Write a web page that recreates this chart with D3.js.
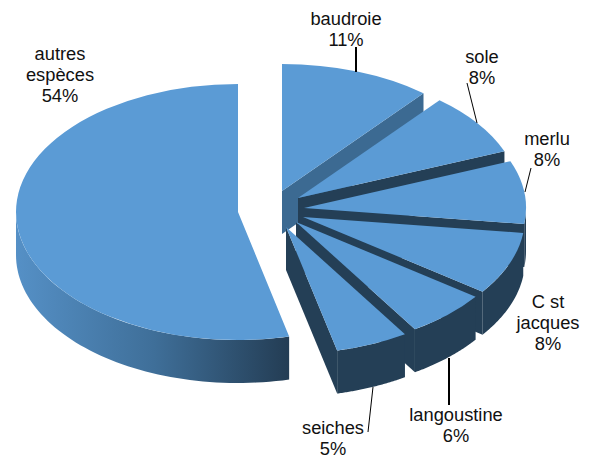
<!DOCTYPE html>
<html>
<head>
<meta charset="utf-8">
<script src="https://cdn.jsdelivr.net/npm/d3@7"></script>
<style>
  html, body { margin: 0; padding: 0; background: #fff; }
  svg { display: block; }
  text { font-family: "Liberation Sans", Arial, sans-serif; font-size: 18.3px; fill: #111; }
</style>
</head>
<body>
<script>
var categories = ["baudroie", "sole", "merlu", "C st jacques", "langoustine", "seiches", "autres espèces"];
var percents = [11, 8, 8, 8, 6, 5.3, 53.7];
var labelLines = [["baudroie", "11%"], ["sole", "8%"], ["merlu", "8%"], ["C st", "jacques", "8%"], ["langoustine", "6%"], ["seiches", "5%"], ["autres", "espèces", "54%"]];

// layout of the exploded slices
var apexX = [282, 298, 304, 303, 296, 286, 238];
var apexY = [191, 198, 208, 217, 222, 227, 212];
var radiusY = [127, 127, 127, 127, 127, 127, 128];
var labelX = [346, 482, 547, 548, 456, 333, 60];
var labelY = [25, 63, 145, 308, 421, 434, 60];
var leaders = [[356, 47, 356, 72, 2], [467, 83, 477, 123, 1], [531, 168, 525, 192, 1], [449, 358, 449, 405, 2], [373, 387, 368, 432, 1]];

var width = 596, height = 456;
var rx = 222, depth = 43, R = 100;
var topColor = "#5b9bd5", darkWall = "#243f56", midWall = "#3c6a92";

var svg = d3.select("body").append("svg")
    .attr("width", width)
    .attr("height", height);

var grad = svg.append("defs").append("linearGradient")
    .attr("id", "sideGrad")
    .attr("gradientUnits", "userSpaceOnUse")
    .attr("x1", 16).attr("x2", 291).attr("y1", 0).attr("y2", 0);
grad.append("stop").attr("offset", 0).attr("stop-color", "#5590c6");
grad.append("stop").attr("offset", 0.5).attr("stop-color", "#3f6f99");
grad.append("stop").attr("offset", 1).attr("stop-color", "#233c53");

var pie = d3.pie().sort(null).value(function (d) { return d; });
var slices = pie(percents);

var arc = d3.arc().innerRadius(0).outerRadius(R);
var line = d3.line();

function px(i, a) { return apexX[i] + rx * Math.sin(a); }
function py(i, a) { return apexY[i] - radiusY[i] * Math.cos(a); }

// outer rim, only the part between 90 and 270 degrees faces the viewer
function rimPoints(i, d) {
    var a0 = Math.max(d.startAngle, Math.PI / 2);
    var a1 = Math.min(d.endAngle, Math.PI * 1.5);
    if (a1 <= a0) return null;
    var angles = d3.range(0, 61).map(function (k) { return a0 + (a1 - a0) * k / 60; });
    var upper = angles.map(function (a) { return [px(i, a), py(i, a)]; });
    var lower = angles.slice().reverse().map(function (a) { return [px(i, a), py(i, a) + depth]; });
    return upper.concat(lower);
}

function wallPoints(i, a) {
    return [[apexX[i], apexY[i]], [px(i, a), py(i, a)], [px(i, a), py(i, a) + depth], [apexX[i], apexY[i] + depth]];
}

var sliceGroups = svg.selectAll("g.slice")
    .data(slices)
    .enter().append("g")
    .attr("class", "slice");

sliceGroups.each(function (d, i) {
    var g = d3.select(this);
    var isBig = i === slices.length - 1;
    if (!isBig) {
        g.append("path")
            .attr("d", line(wallPoints(i, d.endAngle)) + "Z")
            .attr("fill", i === 0 ? midWall : darkWall);
    }
    var rim = rimPoints(i, d);
    if (rim) {
        g.append("path")
            .attr("d", line(rim) + "Z")
            .attr("fill", isBig ? "url(#sideGrad)" : darkWall);
    }
    g.append("path")
        .attr("d", arc(d))
        .attr("transform", "translate(" + apexX[i] + "," + apexY[i] + ") scale(" + rx / R + "," + radiusY[i] / R + ")")
        .attr("fill", topColor);
});

svg.selectAll("line.leader")
    .data(leaders)
    .enter().append("line")
    .attr("class", "leader")
    .attr("x1", function (d) { return d[0]; })
    .attr("y1", function (d) { return d[1]; })
    .attr("x2", function (d) { return d[2]; })
    .attr("y2", function (d) { return d[3]; })
    .attr("stroke", "#000")
    .attr("stroke-width", function (d) { return d[4]; });

svg.selectAll("text.label")
    .data(labelLines)
    .enter().append("text")
    .attr("class", "label")
    .attr("text-anchor", "middle")
    .attr("x", function (d, i) { return labelX[i]; })
    .attr("y", function (d, i) { return labelY[i]; })
    .each(function (d, i) {
        d3.select(this).selectAll("tspan")
            .data(d)
            .enter().append("tspan")
            .attr("x", labelX[i])
            .attr("dy", function (t, k) { return k === 0 ? 0 : 21; })
            .text(function (t) { return t; });
    });
</script>
</body>
</html>
